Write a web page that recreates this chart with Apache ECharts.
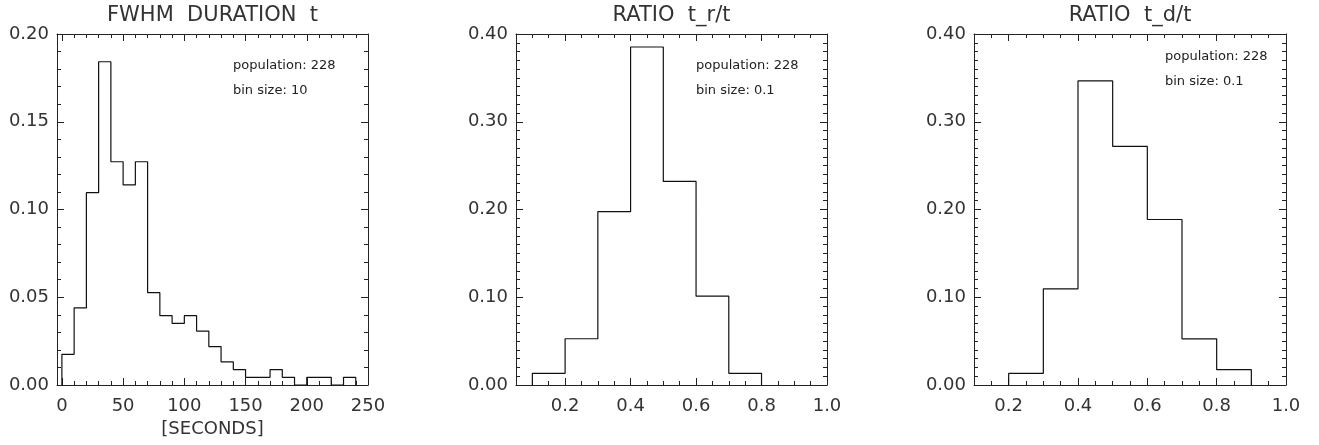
<!DOCTYPE html>
<html>
<head>
<meta charset="utf-8">
<script src="https://cdn.jsdelivr.net/npm/echarts@6/dist/echarts.min.js"></script>
<style>
  html, body { margin: 0; padding: 0; background: #fff; }
  #chart { width: 1319px; height: 445px; }
</style>
</head>
<body>
<div id="chart"></div>
<script>
  // FWHM duration histogram (bin size 10 s), lower bin edges + last upper edge
  var durationEdges = [0, 10, 20, 30, 40, 50, 60, 70, 80, 90, 100, 110, 120,
                       130, 140, 150, 160, 170, 180, 190, 200, 210, 220, 230, 240];
  var durationFreq = [0.0175, 0.0439, 0.1096, 0.1842, 0.1272, 0.1140, 0.1272, 0.0526,
                      0.0395, 0.0351, 0.0395, 0.0307, 0.0219, 0.0132, 0.0088, 0.0044,
                      0.0044, 0.0088, 0.0044, 0, 0.0044, 0.0044, 0, 0.0044];

  // rise time ratio t_r/t
  var riseEdges = [0.1, 0.2, 0.3, 0.4, 0.5, 0.6, 0.7, 0.8];
  var riseFreq = [0.0133, 0.0527, 0.1975, 0.3852, 0.2320, 0.1012, 0.0133];

  // decay time ratio t_d/t
  var decayEdges = [0.2, 0.3, 0.4, 0.5, 0.6, 0.7, 0.8, 0.9];
  var decayFreq = [0.0132, 0.1096, 0.3465, 0.2719, 0.1886, 0.0526, 0.0175];

  // tick labels
  var durationTicks = [0, 50, 100, 150, 200, 250];
  var ratioTicks = [0.2, 0.4, 0.6, 0.8, 1.0];

  var FONT = 'DejaVu Sans';
  var INK = '#333';

  function steps(from, to, step) {
    var out = [];
    for (var v = from; v <= to + step / 1000; v += step) {
      out.push(Math.round(v * 10000) / 10000);
    }
    return out;
  }

  // histogram outline: walk up the first edge, across each bin, down the last edge
  function histPoints(edges, freq) {
    var pts = [[edges[0], 0]];
    freq.forEach(function (v, i) { pts.push([edges[i], v]); });
    pts.push([edges[edges.length - 1], 0]);
    return pts;
  }

  var panels = [
    { left: 57, width: 311, xMin: -4, xMax: 250, majors: durationTicks,
      minors: steps(0, 250, 10), xFmt: function (v) { return String(v); },
      yMax: 0.2, yStep: 0.05, yMinor: 5, title: 'FWHM  DURATION  t',
      xName: '[SECONDS]', edges: durationEdges, freq: durationFreq,
      note: 'bin size: 10', noteX: 233, noteY: 66 },
    { left: 516, width: 311, xMin: 0.05, xMax: 1.0, majors: ratioTicks,
      minors: steps(0.05, 1.0, 0.05), xFmt: function (v) { return v.toFixed(1); },
      yMax: 0.4, yStep: 0.1, yMinor: 10, title: 'RATIO  t_r/t',
      xName: '', edges: riseEdges, freq: riseFreq,
      note: 'bin size: 0.1', noteX: 696, noteY: 66 },
    { left: 974, width: 312, xMin: 0.1, xMax: 1.0, majors: ratioTicks,
      minors: steps(0.1, 1.0, 0.05), xFmt: function (v) { return v.toFixed(1); },
      yMax: 0.4, yStep: 0.1, yMinor: 10, title: 'RATIO  t_d/t',
      xName: '', edges: decayEdges, freq: decayFreq,
      note: 'bin size: 0.1', noteX: 1165, noteY: 57 }
  ];

  var lineStyle = { color: '#222', width: 1 };
  var grids = [], xAxes = [], yAxes = [], series = [], graphics = [];

  panels.forEach(function (p, i) {
    grids.push({ left: p.left, width: p.width, top: 34, height: 351, containLabel: false });

    var base = { gridIndex: i, type: 'value', min: p.xMin, max: p.xMax,
                 splitLine: { show: false } };
    // bottom: box edge, major ticks, labels
    xAxes.push(Object.assign({}, base, {
      position: 'bottom',
      axisLine: { show: true, onZero: false, lineStyle: lineStyle },
      axisTick: { show: true, inside: true, length: 7, customValues: p.majors, lineStyle: lineStyle },
      axisLabel: { show: true, customValues: p.majors, formatter: p.xFmt, margin: 12,
                   fontFamily: FONT, fontSize: 18, color: INK },
      name: p.xName, nameLocation: 'middle', nameGap: 27,
      nameTextStyle: { fontFamily: FONT, fontSize: 18, color: INK }
    }));
    // bottom minor ticks
    xAxes.push(Object.assign({}, base, {
      position: 'bottom',
      axisLine: { show: false, onZero: false },
      axisTick: { show: true, inside: true, length: 4, customValues: p.minors, lineStyle: lineStyle },
      axisLabel: { show: false }
    }));
    // top: box edge, major ticks, panel title
    xAxes.push(Object.assign({}, base, {
      position: 'top',
      axisLine: { show: true, onZero: false, lineStyle: lineStyle },
      axisTick: { show: true, inside: true, length: 7, customValues: p.majors, lineStyle: lineStyle },
      axisLabel: { show: false },
      name: p.title, nameLocation: 'middle', nameGap: 8,
      nameTextStyle: { fontFamily: FONT, fontSize: 21, color: INK }
    }));
    // top minor ticks
    xAxes.push(Object.assign({}, base, {
      position: 'top',
      axisLine: { show: false, onZero: false },
      axisTick: { show: true, inside: true, length: 4, customValues: p.minors, lineStyle: lineStyle },
      axisLabel: { show: false }
    }));

    var yBase = { gridIndex: i, type: 'value', min: 0, max: p.yMax, interval: p.yStep,
                  splitLine: { show: false },
                  axisLine: { show: true, onZero: false, lineStyle: lineStyle },
                  axisTick: { show: true, inside: true, length: 7, lineStyle: lineStyle },
                  minorTick: { show: true, splitNumber: p.yMinor, length: 4, lineStyle: lineStyle } };
    yAxes.push(Object.assign({}, yBase, {
      position: 'left',
      axisLabel: { show: true, margin: 8, fontFamily: FONT, fontSize: 18, color: INK,
                   formatter: function (v) { return v.toFixed(2); } }
    }));
    yAxes.push(Object.assign({}, yBase, {
      position: 'right',
      axisLabel: { show: false }
    }));

    series.push({
      type: 'line', xAxisIndex: i * 4, yAxisIndex: i * 2,
      step: 'end', symbol: 'none', silent: true,
      lineStyle: { color: '#111', width: 1.2 },
      data: histPoints(p.edges, p.freq)
    });

    graphics.push({
      type: 'text', x: p.noteX, y: p.noteY,
      style: { text: 'population: 228', fontFamily: FONT, fontSize: 13, fill: '#222',
               textVerticalAlign: 'middle' }
    });
    graphics.push({
      type: 'text', x: p.noteX, y: p.noteY + 25,
      style: { text: p.note, fontFamily: FONT, fontSize: 13, fill: '#222',
               textVerticalAlign: 'middle' }
    });
  });

  var myChart = echarts.init(document.getElementById('chart'), null, { renderer: 'canvas' });
  myChart.setOption({
    animation: false,
    backgroundColor: '#fff',
    grid: grids,
    xAxis: xAxes,
    yAxis: yAxes,
    series: series,
    graphic: graphics
  });
</script>
</body>
</html>
